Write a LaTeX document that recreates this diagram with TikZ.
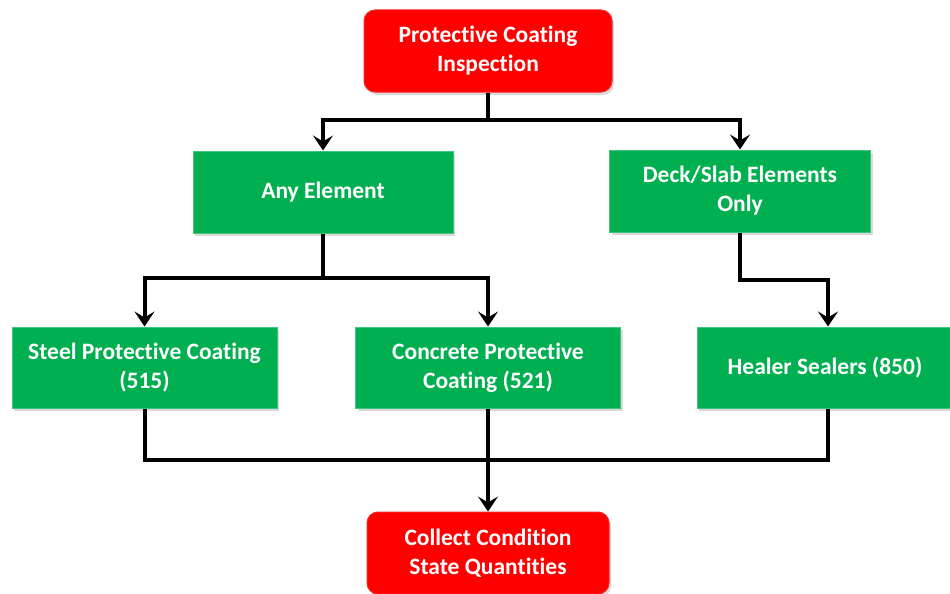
\documentclass[tikz,border=0pt]{standalone}
\usepackage{fontspec}
\setmainfont{Carlito}[Ligatures=NoCommon]
\usetikzlibrary{arrows.meta,shadows}
\definecolor{boxgreen}{RGB}{0,176,80}
\definecolor{boxred}{RGB}{255,0,0}
\begin{document}
\begin{tikzpicture}[x=1pt,y=-1pt,
  box/.style={text=white, font=\bfseries\fontsize{23.5}{29}\selectfont, align=center,
    inner sep=0pt, drop shadow={shadow xshift=2pt,shadow yshift=-3pt,opacity=0.3}},
  greenbox/.style={box, fill=boxgreen, draw=boxgreen!75!white, line width=1pt},
  redbox/.style={box, fill=boxred, draw=boxred!85!white, line width=1pt, rounded corners=11pt},
  conn/.style={line width=4pt, draw=black},
  arr/.style={conn, -{Stealth[length=15pt,width=20pt,inset=6pt]}}]
\useasboundingbox (0,0) rectangle (950,594);
\node[redbox, minimum width=248pt, minimum height=82pt] (top) at (488,51) {Protective Coating\\Inspection};
\node[greenbox, minimum width=260pt, minimum height=82pt] (any) at (323,192) {Any Element};
\node[greenbox, minimum width=261pt, minimum height=82pt] (deck) at (740,191) {Deck/Slab Elements\\Only};
\node[greenbox, minimum width=265pt, minimum height=81pt] (steel) at (144.5,367.5) {Steel Protective Coating\\(515)};
\node[greenbox, minimum width=265pt, minimum height=81pt] (concrete) at (488,367.5) {Concrete Protective\\Coating (521)};
\node[greenbox, minimum width=262pt, minimum height=81pt] (healer) at (828,367.5) {\hspace*{-6pt}Healer Sealers (850)};
\node[redbox, minimum width=242pt, minimum height=82pt] (collect) at (488,553) {Collect Condition\\State Quantities};
\coordinate (j1) at (488,120);
\coordinate (j2) at (323,278);
\coordinate (j3) at (740,280);
\coordinate (j4) at (488,460);
\draw[arr] (top.south) -- (j1) -| (any.north);
\draw[arr] (top.south) -- (j1) -| (deck.north);
\draw[arr] (any.south) -- (j2) -| (steel.north);
\draw[arr] (any.south) -- (j2) -| (concrete.north);
\draw[arr] (deck.south) -- (j3) -| (healer.north);
\draw[conn] (steel.south) |- (j4) -| (healer.south);
\draw[arr] (concrete.south) -- (collect.north);
\end{tikzpicture}
\end{document}
